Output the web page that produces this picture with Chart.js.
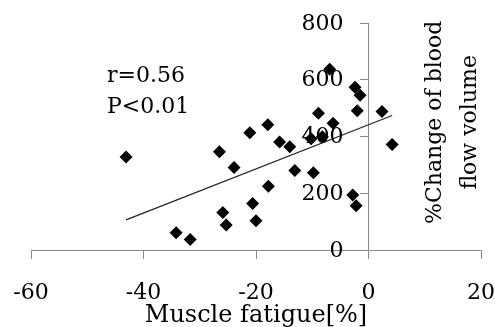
<!DOCTYPE html>
<html>
<head>
<meta charset="utf-8">
<script src="https://cdn.jsdelivr.net/npm/chart.js@4/dist/chart.umd.min.js"></script>
<style>
  html, body { margin: 0; padding: 0; background: #fff; }
  #wrap { width: 495px; height: 327px; }
</style>
</head>
<body>
<div id="wrap"><canvas id="scatterChart"></canvas></div>
<script>
// Muscle fatigue [%] vs %change of blood flow volume
const fatigue = [-43.1, -26.5, -23.9, -25.9, -25.3, -34.2, -31.7, -21.1, -20.6, -20.0,
                 -17.8, -13.1, -9.8, -2.8, -2.2, -17.9, -15.8, -14.0, -8.9, -6.3,
                 -6.9, -2.4, -1.5, -2.0, 2.4, 4.2, -10.2, -8.2];
const bloodFlow = [328, 346, 291, 132, 88, 61, 37, 413, 164, 103,
                   225, 280, 272, 194, 156, 441, 381, 364, 482, 447,
                   637, 574, 545, 491, 488, 372, 392, 399];

// regression line end points
const trendX = [-43.1, 4.2];
const trendY = [106, 474];

const xTicks = [-60, -40, -20, 0, 20];
const yTicks = [0, 200, 400, 600, 800];

const statLines = ['r=0.56', 'P<0.01'];
const yTitleLines = ['%Change of blood', 'flow volume'];

const serif = 'DejaVu Serif';
const axisGray = '#8a8a8a';

// y tick labels left of the x=0 axis, y title on its right, r / P note
const textPlugin = {
    id: 'extraText',
    afterDraw(chart) {
        const c = chart.ctx;
        const xs = chart.scales.x;
        const ys = chart.scales.y;
        const x0 = xs.getPixelForValue(0);

        c.save();
        c.fillStyle = '#000';
        c.font = '22px "' + serif + '"';
        c.textAlign = 'right';
        c.textBaseline = 'middle';
        yTicks.forEach(v => c.fillText(String(v), x0 - 25, ys.getPixelForValue(v) + 1));
        c.restore();

        const yMid = ys.getPixelForValue(450);
        c.save();
        c.fillStyle = '#000';
        c.font = '22px "' + serif + '"';
        c.textAlign = 'center';
        c.textBaseline = 'alphabetic';
        c.translate(x0, yMid);
        c.rotate(-Math.PI / 2);
        c.fillText(yTitleLines[0], 0, 72);
        c.fillText(yTitleLines[1], 0, 107);
        c.restore();

        c.save();
        c.fillStyle = '#000';
        c.font = '22px "' + serif + '"';
        c.textAlign = 'left';
        c.textBaseline = 'alphabetic';
        c.fillText(statLines[0], 107, 82);
        c.fillText(statLines[1], 107, 113);
        c.restore();
    }
};

const noEdgePadding = (s) => {
    s.paddingLeft = 0;
    s.paddingRight = 0;
    s.paddingTop = 0;
    s.paddingBottom = 0;
};

const ctx = document.getElementById('scatterChart').getContext('2d');
new Chart(ctx, {
    type: 'scatter',
    data: {
        datasets: [{
            label: 'data',
            data: fatigue.map((v, i) => ({ x: v, y: bloodFlow[i] })),
            pointStyle: 'rectRot',
            pointRadius: 6.5,
            pointHoverRadius: 6.5,
            backgroundColor: '#000',
            borderColor: '#000',
            borderWidth: 0
        }, {
            label: 'trend',
            data: trendX.map((v, i) => ({ x: v, y: trendY[i] })),
            showLine: true,
            pointRadius: 0,
            borderColor: '#222',
            borderWidth: 1.2
        }]
    },
    options: {
        responsive: true,
        maintainAspectRatio: false,
        animation: false,
        layout: {
            padding: { left: 31, right: 14, top: 23, bottom: 0 }
        },
        plugins: {
            legend: { display: false },
            tooltip: { enabled: false }
        },
        scales: {
            x: {
                type: 'linear',
                min: -60,
                max: 20,
                afterBuildTicks: (s) => { s.ticks = xTicks.map(v => ({ value: v })); },
                afterFit: noEdgePadding,
                ticks: {
                    color: '#000',
                    padding: 23,
                    font: { family: serif, size: 22, lineHeight: 1 }
                },
                grid: {
                    drawOnChartArea: false,
                    tickLength: 9,
                    color: axisGray
                },
                border: { color: axisGray },
                title: {
                    display: true,
                    text: 'Muscle fatigue[%]',
                    color: '#000',
                    padding: { top: -23, bottom: -1 },
                    font: { family: serif, size: 24, lineHeight: 1 }
                }
            },
            y: {
                type: 'linear',
                position: { x: 0 },
                min: 0,
                max: 800,
                afterBuildTicks: (s) => { s.ticks = yTicks.map(v => ({ value: v })); },
                afterFit: noEdgePadding,
                ticks: { display: false },
                grid: {
                    drawOnChartArea: false,
                    tickLength: 8,
                    color: axisGray
                },
                border: { color: axisGray }
            }
        }
    },
    plugins: [textPlugin]
});
</script>
</body>
</html>
